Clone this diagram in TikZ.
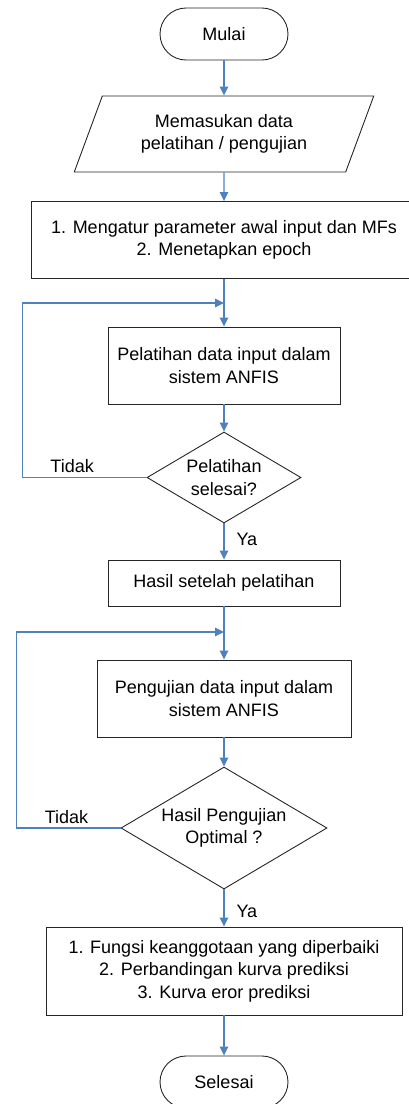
\documentclass[tikz,border=0pt]{standalone}
\usepackage{fontspec}
\setmainfont{Liberation Sans}
\usetikzlibrary{shapes.geometric,arrows.meta}
\definecolor{flowblue}{HTML}{4F81BD}
\tikzset{
	box/.style={draw=black!85, line width=0.9pt, rectangle, align=center, inner sep=0pt},
	term/.style={box, rounded corners=26pt, minimum width=128pt, minimum height=52pt},
	io/.style={box, trapezium, trapezium left angle=64, trapezium right angle=116, trapezium stretches=true},
	decide/.style={box, diamond},
	flow/.style={draw=flowblue, line width=1.1pt, -{Triangle[length=9pt,width=8.5pt]}},
	lbl/.style={inner sep=2pt},
}
\begin{document}
\begin{tikzpicture}[x=1pt, y=-1pt, font=\fontsize{18}{22.5}\selectfont]
	\useasboundingbox (0,0) rectangle (408,1104);
	\def\cx{224};
	% nodes
	\node[term] (start) at (\cx,34) {Mulai};
	\node[io, minimum width=300pt, minimum height=76pt] (input) at (\cx,134) {Memasukan data\\pelatihan / pengujian};
	\node[box, minimum width=386pt, minimum height=77pt] (setup) at (\cx,240) {1. Mengatur parameter awal input dan MFs\\2. Menetapkan epoch};
	\node[box, minimum width=232pt, minimum height=77pt] (train) at (\cx,365.5) {Pelatihan data input dalam\\sistem ANFIS};
	\node[decide, aspect=1.7, minimum width=154pt, minimum height=91pt] (check1) at (\cx,477.5) {Pelatihan\\selesai?};
	\node[box, minimum width=232pt, minimum height=46pt] (result) at (\cx,583) {Hasil setelah pelatihan};
	\node[box, minimum width=254pt, minimum height=77pt] (test) at (\cx,698.5) {Pengujian data input dalam\\sistem ANFIS};
	\node[decide, aspect=1.69, minimum width=206pt, minimum height=122pt] (check2) at (\cx,828) {Hasil Pengujian\\Optimal ?};
	\node[box, minimum width=356pt, minimum height=88pt] (output) at (\cx,971) {1. Fungsi keanggotaan yang diperbaiki\\2. Perbandingan kurva prediksi\\3. Kurva eror prediksi};
	\node[term] (stop) at (\cx,1082) {Selesai};
	\coordinate (join1) at (\cx,303);
	\coordinate (join2) at (\cx,632);
	% connectors
	\draw[flow] (start) -- (input);
	\draw[flow] (input) -- (setup);
	\draw[flow] (setup) -- (train);
	\draw[flow] (train) -- (check1);
	\draw[flow] (check1) -- node[lbl, pos=0.43, right=10pt] {Ya} (result);
	\draw[flow] (check1.west) -- ++(-124,0) node[lbl, pos=0.6, above=2pt] {Tidak} |- (join1);
	\draw[flow] (result) -- (test);
	\draw[flow] (test) -- (check2);
	\draw[flow] (check2) -- node[lbl, pos=0.6, right=10pt] {Ya} (output);
	\draw[flow] (check2.west) -- ++(-104,0) node[lbl, pos=0.52, above=2pt] {Tidak} |- (join2);
	\draw[flow] (output) -- (stop);
\end{tikzpicture}
\end{document}
